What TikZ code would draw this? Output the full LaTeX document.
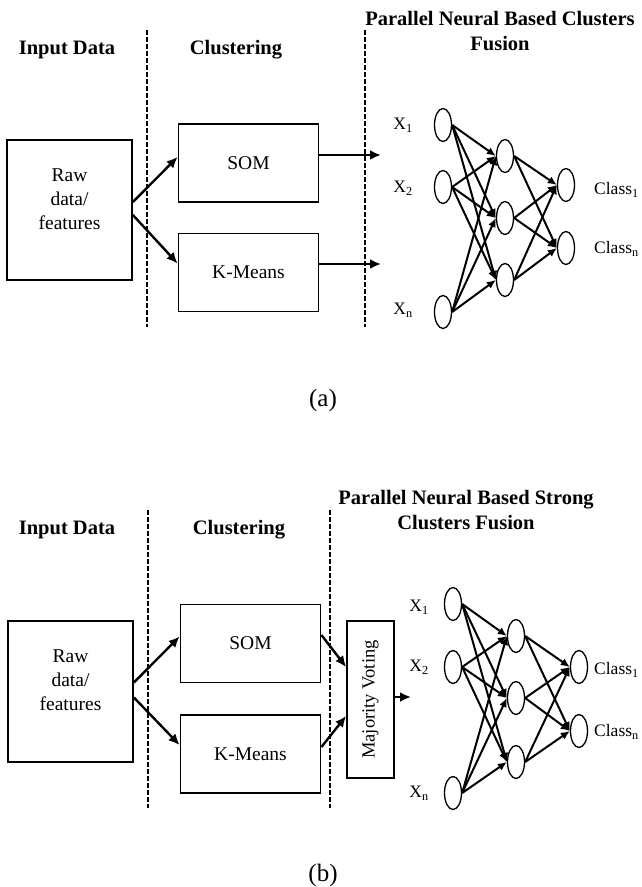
\documentclass[tikz,border=0pt]{standalone}
\usepackage{fontspec}
\setmainfont{Liberation Serif}
\usetikzlibrary{arrows.meta,shapes.geometric}

\begin{document}
\begin{tikzpicture}[x=1pt,y=-1pt,
    box/.style={draw,line width=1.8pt,minimum width=140pt,minimum height=78pt,inner sep=0pt,font=\fontsize{19.5}{25}\selectfont},
    head/.style={font=\fontsize{20.5}{25}\bfseries\selectfont,align=center},
    lab/.style={font=\fontsize{17.5}{20}\selectfont,inner sep=0pt},
    neuron/.style={draw,ellipse,line width=1.3pt,minimum width=17pt,minimum height=33pt,inner sep=0pt},
    arr/.style={-{Latex[length=11pt,width=10pt]},line width=2.4pt},
    link/.style={-{Latex[length=9pt,width=8pt]},line width=2pt},
    divider/.style={line width=2pt,dash pattern=on 4.5pt off 2.5pt}
  ]
    \useasboundingbox (0,0) rectangle (641,887);
    % panel (a)
    \node[head] (inhead a) at (67,50) {Input Data};
    \node[head] (clhead a) at (236,50) {Clustering};
    \node[head] (fuhead a) at (500,31) {Parallel Neural Based Clusters\\Fusion};
    \draw[divider] (147,30) -- (147,327);
    \draw[divider] (365,30) -- (365,327);
    \node[box,minimum width=125pt,minimum height=140pt] (raw a) at (69.5,210) {};
    \node[font=\fontsize{19.5}{24}\selectfont,align=center] (rawtxt a) at ([yshift=11pt]raw a.center) {Raw\\data/\\features};
    \node[box] (som a) at (248.5,163) {SOM};
    \node[box] (km a) at (248.5,272.5) {K-Means};
    \coordinate (somout a) at (381,155);
    \coordinate (kmout a) at (381,264);
    \draw[arr] ([yshift=8pt]raw a.east) -- ([yshift=6pt]som a.west);
    \draw[arr] ([yshift=-5pt]raw a.east) -- ([yshift=9pt]km a.west);
    \draw[arr] ([yshift=8pt]som a.east) -- (somout a);
    \draw[arr] ([yshift=8.5pt]km a.east) -- (kmout a);
    \foreach \n/\y in {1/125,2/187,3/312} \node[neuron] (in a\n) at (443,\y) {};
    \foreach \n/\y in {1/156,2/218,3/280} \node[neuron] (hid a\n) at (505,\y) {};
    \foreach \n/\y in {1/185,2/248} \node[neuron] (out a\n) at (566,\y) {};
    \foreach \i in {1,2,3} \foreach \j in {1,2,3} \draw[link] (in a\i.east) -- (hid a\j.west);
    \foreach \i in {1,2,3} \foreach \j in {1,2} \draw[link] (hid a\i.east) -- (out a\j.west);
    \node[lab] (x a1) at (403,125) {X\textsubscript{1}};
    \node[lab] (x a2) at (403,188) {X\textsubscript{2}};
    \node[lab] (x a3) at (403,310) {X\textsubscript{n}};
    \node[lab,anchor=west] (cls a1) at (594,190) {Class\textsubscript{1}};
    \node[lab,anchor=west] (cls a2) at (594,249) {Class\textsubscript{n}};
    \node[font=\fontsize{25}{30}\selectfont] (cap a) at (323,400) {(a)};
    % panel (b)
    \node[head] (inhead b) at (67,530) {Input Data};
    \node[head] (clhead b) at (239,530) {Clustering};
    \node[head] (fuhead b) at (466,510.5) {Parallel Neural Based Strong\\Clusters Fusion};
    \draw[divider] (148,510) -- (148,808);
    \draw[divider] (330,510) -- (330,808);
    \node[box,minimum width=125pt,minimum height=141pt] (raw b) at (70.5,691.5) {};
    \node[font=\fontsize{19.5}{24}\selectfont,align=center] (rawtxt b) at ([yshift=11pt]raw b.center) {Raw\\data/\\features};
    \node[box] (som b) at (250.5,643.5) {SOM};
    \node[box] (km b) at (250.5,754) {K-Means};
    \node[box,minimum width=47pt,minimum height=157pt,label={[rotate=90,font=\fontsize{18.5}{20}\selectfont]center:Majority Voting}] (vote) at (370.5,699.5) {};
    \coordinate (vote out) at (411,697);
    \draw[arr] ([yshift=9pt]raw b.east) -- ([yshift=7pt]som b.west);
    \draw[arr] ([yshift=-6pt]raw b.east) -- ([yshift=9pt]km b.west);
    \draw[arr] ([yshift=8.5pt]som b.east) -- ([yshift=32.5pt]vote.west);
    \draw[arr] ([yshift=7pt]km b.east) -- ([yshift=-16.5pt]vote.west);
    \draw[arr] ([yshift=2.5pt]vote.east) -- (vote out);
    \foreach \n/\y in {1/604,2/667,3/793} \node[neuron] (in b\n) at (453,\y) {};
    \foreach \n/\y in {1/636,2/698,3/762} \node[neuron] (hid b\n) at (516,\y) {};
    \foreach \n/\y in {1/667,2/731} \node[neuron] (out b\n) at (579,\y) {};
    \foreach \i in {1,2,3} \foreach \j in {1,2,3} \draw[link] (in b\i.east) -- (hid b\j.west);
    \foreach \i in {1,2,3} \foreach \j in {1,2} \draw[link] (hid b\i.east) -- (out b\j.west);
    \node[lab] (x b1) at (419,607) {X\textsubscript{1}};
    \node[lab] (x b2) at (419,667) {X\textsubscript{2}};
    \node[lab] (x b3) at (419,793) {X\textsubscript{n}};
    \node[lab,anchor=west] (cls b1) at (594,670) {Class\textsubscript{1}};
    \node[lab,anchor=west] (cls b2) at (594,732) {Class\textsubscript{n}};
    \node[font=\fontsize{25}{30}\selectfont] (cap b) at (323,875) {(b)};
  \end{tikzpicture}
\end{document}
